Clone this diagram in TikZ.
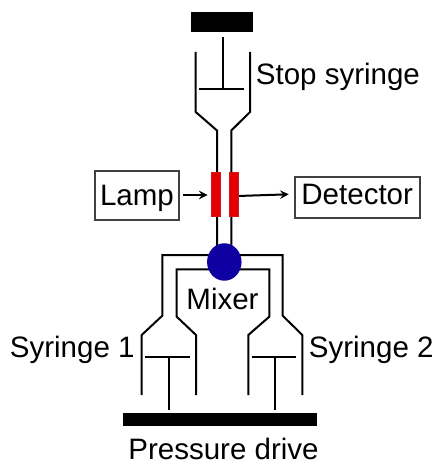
\documentclass[tikz,border=0pt]{standalone}
\usepackage{fontspec}
\setmainfont{Liberation Sans}
\usetikzlibrary{shapes}
\usetikzlibrary{shapes.geometric}
\pgfdeclarelayer{edgelayer}
\pgfdeclarelayer{nodelayer}
\pgfsetlayers{edgelayer,nodelayer,main}
\tikzstyle{none}=[inner sep=0pt]
\tikzstyle{tube}=[line width=0.04cm, line join=miter]
\tikzstyle{bar}=[rectangle, fill=black, inner sep=0pt]
\tikzstyle{cell}=[rectangle, fill=cellred, draw=cellred!80!gray, inner sep=0pt, minimum width=0.175cm, minimum height=0.88cm]
\tikzstyle{box}=[rectangle, draw=black!75, line width=0.035cm, inner sep=0pt]
\tikzstyle{txt}=[inner sep=0pt, font=\fontsize{16.8}{19}\selectfont]
\definecolor{cellred}{rgb}{0.89,0.0,0.0}
\definecolor{mixblue}{rgb}{0.06,0.0,0.63}

\begin{document}
\begin{tikzpicture}[x=0.02cm, y=-0.02cm, >=stealth]
    \useasboundingbox (0, 0) rectangle (436, 462);
    \begin{pgfonlayer}{nodelayer}
	\node [style=bar, minimum width=1.23cm, minimum height=0.39cm] (0) at (222.2, 21.8) {};
	\node [style=bar, minimum width=3.88cm, minimum height=0.26cm] (1) at (219.7, 419.7) {};
	\node [style=cell] (2) at (215.6, 194.5) {};
	\node [style=cell] (3) at (233.5, 194.5) {};
	\node [ellipse, fill=mixblue, inner sep=0pt, minimum width=0.69cm, minimum height=0.75cm] (4) at (224.3, 262) {};
	\node [style=box, txt, minimum width=1.67cm, text height=0.694cm, text depth=0.274cm] (5) at (137, 195.5) {Lamp};
	\node [style=box, txt, minimum width=2.5cm, text height=0.554cm, text depth=0.254cm] (6) at (357.2, 197.5) {Detector};
	\node [style=txt, anchor=base west] (7) at (255.5, 85) {Stop syringe};
	\node [style=txt, anchor=base] (8) at (222.5, 309.3) {Mixer};
	\node [style=txt, anchor=base west] (9) at (9.5, 357.5) {Syringe 1};
	\node [style=txt, anchor=base west] (10) at (308.5, 357.5) {Syringe 2};
	\node [style=txt, anchor=base] (11) at (223.5, 459.5) {Pressure drive};
    \end{pgfonlayer}
    % stop syringe
    \node [style=none] (20) at (222.7, 37) {};
    \node [style=none] (21) at (222.7, 89) {};
    \node [style=none] (22) at (199, 89) {};
    \node [style=none] (23) at (244, 89) {};
    \node [style=none] (24) at (195.7, 52) {};
    \node [style=none] (25) at (195.7, 112) {};
    \node [style=none] (26) at (217, 130.5) {};
    \node [style=none] (27) at (217, 255) {};
    \node [style=none] (28) at (250, 52) {};
    \node [style=none] (29) at (250, 112) {};
    \node [style=none] (30) at (231.3, 130.5) {};
    \node [style=none] (31) at (231.3, 255) {};
    % syringe 1
    \node [style=none] (40) at (224, 255) {};
    \node [style=none] (41) at (162.3, 255) {};
    \node [style=none] (42) at (162.3, 315.7) {};
    \node [style=none] (43) at (141.7, 335) {};
    \node [style=none] (44) at (141.7, 395) {};
    \node [style=none] (45) at (224, 269.3) {};
    \node [style=none] (46) at (176.7, 269.3) {};
    \node [style=none] (47) at (176.7, 316.7) {};
    \node [style=none] (48) at (196, 335) {};
    \node [style=none] (49) at (196, 395) {};
    \node [style=none] (50) at (145, 357.3) {};
    \node [style=none] (51) at (190, 357.3) {};
    \node [style=none] (52) at (169, 357.3) {};
    \node [style=none] (53) at (169, 410) {};
    % syringe 2
    \node [style=none] (60) at (282.7, 255) {};
    \node [style=none] (61) at (282.7, 315.7) {};
    \node [style=none] (62) at (302.3, 335) {};
    \node [style=none] (63) at (302.3, 395) {};
    \node [style=none] (64) at (269.3, 269.3) {};
    \node [style=none] (65) at (269.3, 316.7) {};
    \node [style=none] (66) at (248.3, 335) {};
    \node [style=none] (67) at (248.3, 395) {};
    \node [style=none] (68) at (251.7, 357.3) {};
    \node [style=none] (69) at (296, 357.3) {};
    \node [style=none] (70) at (275, 357.3) {};
    \node [style=none] (71) at (275, 410) {};
    % arrows
    \node [style=none] (80) at (182.7, 195) {};
    \node [style=none] (81) at (207.5, 195) {};
    \node [style=none] (82) at (238, 196) {};
    \node [style=none] (83) at (288.7, 194.3) {};
    \begin{pgfonlayer}{edgelayer}
	\draw [style=tube] (20.center) to (21.center);
	\draw [style=tube] (22.center) to (23.center);
	\draw [style=tube] (24.center) to (25.center) to (26.center) to (27.center);
	\draw [style=tube] (28.center) to (29.center) to (30.center) to (31.center);
	\draw [style=tube] (40.center) to (41.center) to (42.center) to (43.center) to (44.center);
	\draw [style=tube] (45.center) to (46.center) to (47.center) to (48.center) to (49.center);
	\draw [style=tube] (50.center) to (51.center);
	\draw [style=tube] (52.center) to (53.center);
	\draw [style=tube] (40.center) to (60.center) to (61.center) to (62.center) to (63.center);
	\draw [style=tube] (45.center) to (64.center) to (65.center) to (66.center) to (67.center);
	\draw [style=tube] (68.center) to (69.center);
	\draw [style=tube] (70.center) to (71.center);
	\draw [style=tube, ->] (80.center) to (81.center);
	\draw [style=tube, ->] (82.center) to (83.center);
    \end{pgfonlayer}
\end{tikzpicture}
\end{document}
